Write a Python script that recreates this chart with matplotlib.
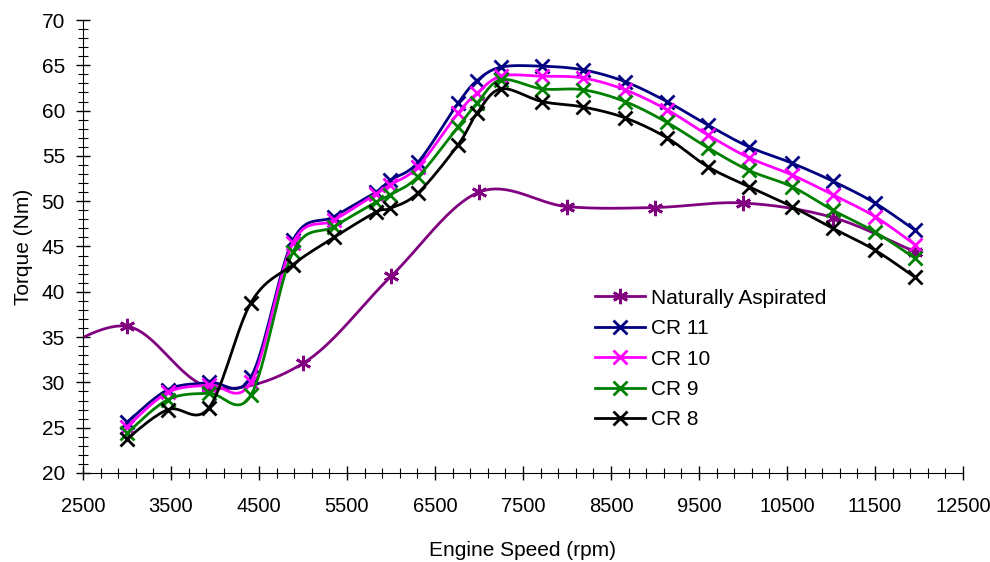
import matplotlib
matplotlib.use("Agg")
import matplotlib.pyplot as plt
import numpy as np

plt.rcParams.update({
    "font.family": ["Liberation Sans", "DejaVu Sans"],
    "font.size": 15,
})

# naturally aspirated (first point sits left of the axis, clipped)
na_rpm = [2000, 3000, 3932, 5000, 6000, 7000, 8000, 9000, 10000, 11023, 11955]
na_torque = [32.3, 36.2, 29.5, 32.1, 41.7, 51.0, 49.4, 49.3, 49.8, 48.2, 44.4]

# compression ratio runs share the same speed points
cr_rpm = [3000, 3466, 3932, 4409, 4886, 5352, 5830, 5989, 6307, 6761, 6977,
          7250, 7716, 8182, 8659, 9136, 9602, 10068, 10557, 11023, 11500, 11955]
cr11 = [25.6, 29.2, 30.0, 30.6, 45.7, 48.3, 51.0, 52.3, 54.3, 60.8, 63.3,
        64.8, 64.9, 64.5, 63.2, 61.0, 58.4, 56.0, 54.2, 52.2, 49.8, 46.8]
cr10 = [25.1, 28.9, 29.7, 30.0, 45.4, 47.9, 50.8, 51.8, 53.8, 59.7, 61.9,
        63.8, 63.8, 63.6, 62.3, 60.1, 57.3, 54.8, 52.9, 50.7, 48.3, 45.2]
cr9 = [24.4, 28.1, 28.8, 28.6, 44.4, 47.2, 49.9, 50.7, 52.7, 58.2, 60.8,
       63.4, 62.4, 62.3, 61.0, 58.7, 55.9, 53.4, 51.6, 49.0, 46.6, 43.7]
cr8 = [23.8, 27.0, 27.2, 38.8, 43.0, 46.0, 48.8, 49.2, 50.9, 56.2, 59.7,
       62.4, 61.0, 60.4, 59.2, 57.0, 53.8, 51.6, 49.4, 47.0, 44.6, 41.6]

labels = ["Naturally Aspirated", "CR 11", "CR 10", "CR 9", "CR 8"]
colors = ["#800080", "#000080", "#FF00FF", "#008000", "#000000"]

STEPS = 16


def smooth(x, y, steps=STEPS):
    # bezier smoothing like a spreadsheet "smoothed line", done in screen-ish units
    sx, sy = 0.088, 9.06
    p = np.column_stack([np.asarray(x, float) * sx, np.asarray(y, float) * sy])
    pts = [p[0]]
    t = np.linspace(0, 1, steps + 1)[1:, None]
    for i in range(len(p) - 1):
        p0 = p[i - 1] if i > 0 else p[i]
        p3 = p[i + 2] if i + 2 < len(p) else p[i + 1]
        c1 = p[i] + (p[i + 1] - p0) / 6
        c2 = p[i + 1] - (p3 - p[i]) / 6
        seg = ((1 - t) ** 3 * p[i] + 3 * (1 - t) ** 2 * t * c1
               + 3 * (1 - t) * t ** 2 * c2 + t ** 3 * p[i + 1])
        pts.extend(seg)
    pts = np.array(pts)
    return pts[:, 0] / sx, pts[:, 1] / sy


fig = plt.figure(figsize=(9.9, 5.62), dpi=100)
ax = fig.add_axes([0.0838, 0.1584, 0.8889, 0.806])

series = [(na_rpm, na_torque), (cr_rpm, cr11), (cr_rpm, cr10), (cr_rpm, cr9), (cr_rpm, cr8)]
for k, ((xs, ys), lab, col) in enumerate(zip(series, labels, colors)):
    xx, yy = smooth(xs, ys)
    every = list(range(0, len(xx), STEPS))
    if k == 0:
        ax.plot(xx, yy, color=col, lw=2, marker=(6, 2, 0), ms=11, mew=2,
                markevery=every, label=lab)
    else:
        ax.plot(xx, yy, color=col, lw=2, marker="x", ms=10, mew=2,
                markevery=every, label=lab)

ax.set_xlim(2500, 12500)
ax.set_ylim(20, 70)
ax.set_xticks(np.arange(2500, 12501, 1000))
ax.set_xticks(np.arange(2500, 12501, 200), minor=True)
ax.set_yticks(np.arange(20, 71, 5))
ax.set_yticks(np.arange(20, 71, 1), minor=True)
ax.tick_params(which="major", direction="inout", length=10, width=1)
ax.tick_params(axis="y", which="major", pad=8)
ax.tick_params(axis="x", which="major", pad=12, labelsize=14.5)
ax.tick_params(which="minor", direction="inout", length=7, width=0.8)
for s in ["top", "right"]:
    ax.spines[s].set_visible(False)

ax.set_xlabel("Engine Speed (rpm)", labelpad=18)
ax.set_ylabel("Torque (Nm)", labelpad=6)

ax.legend(loc="upper left", bbox_to_anchor=(0.57, 0.43), frameon=False,
          handlelength=2.4, handletextpad=0.3, labelspacing=0.55, borderpad=0)

fig.savefig("out.png", dpi=100)
